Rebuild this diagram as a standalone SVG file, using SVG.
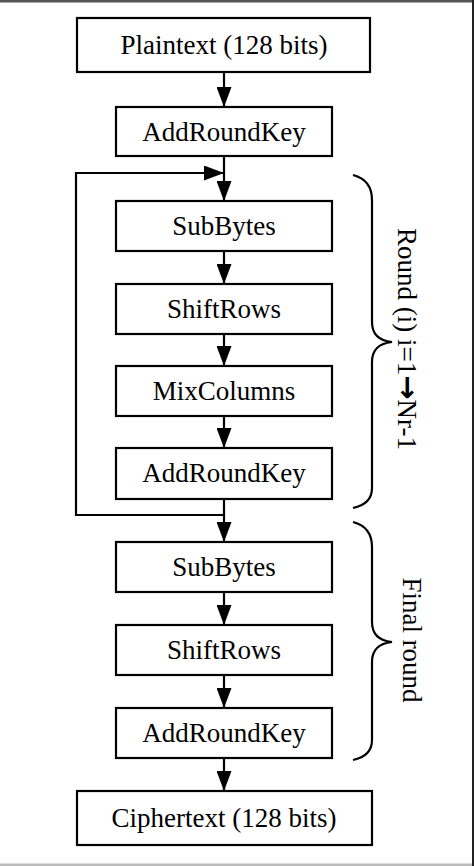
<svg xmlns="http://www.w3.org/2000/svg" width="474" height="866" viewBox="0 0 474 866">
<style>
.box{fill:#fff;stroke:#000;stroke-width:2.2}
.lbl{font-family:"Liberation Serif","Times New Roman",serif;font-size:27px;fill:#000;text-anchor:middle}
.ln{fill:none;stroke:#000;stroke-width:2.2}
.brace{fill:none;stroke:#000;stroke-width:2.2}
</style>
<defs>
<marker id="ah" markerWidth="20" markerHeight="15" refX="20" refY="7.5" viewBox="0 0 20 15" markerUnits="userSpaceOnUse" orient="auto">
<path d="M0,0 L20,7.5 L0,15 Z" fill="#000"/>
</marker>
</defs>
<rect x="0" y="0" width="474" height="866" fill="#fff"/>
<rect x="0" y="0" width="474" height="2.5" fill="#555"/>
<rect x="472" y="0" width="2" height="866" fill="#222"/>
<rect x="0" y="863.5" width="472" height="2.5" fill="#bbb"/>

<g id="connectors">
<line class="ln" x1="224" y1="72" x2="224" y2="107" marker-end="url(#ah)"/>
<line class="ln" x1="224" y1="156" x2="224" y2="201" marker-end="url(#ah)"/>
<line class="ln" x1="224" y1="251" x2="224" y2="284" marker-end="url(#ah)"/>
<line class="ln" x1="224" y1="334" x2="224" y2="366" marker-end="url(#ah)"/>
<line class="ln" x1="224" y1="416" x2="224" y2="448" marker-end="url(#ah)"/>
<line class="ln" x1="224" y1="499" x2="224" y2="542" marker-end="url(#ah)"/>
<line class="ln" x1="224" y1="592" x2="224" y2="625" marker-end="url(#ah)"/>
<line class="ln" x1="224" y1="675" x2="224" y2="708" marker-end="url(#ah)"/>
<line class="ln" x1="224" y1="758" x2="224" y2="791" marker-end="url(#ah)"/>
<polyline class="ln" points="224,515 76,515 76,173 224,173" marker-end="url(#ah)"/>
</g>

<g id="plaintext"><rect class="box" x="77" y="18" width="293" height="54"/><text class="lbl" x="224" y="54">Plaintext (128 bits)</text></g>
<g id="addroundkey0"><rect class="box" x="116" y="107" width="216" height="49"/><text class="lbl" x="224" y="141">AddRoundKey</text></g>
<g id="subbytes1"><rect class="box" x="116" y="201" width="216" height="50"/><text class="lbl" x="224" y="235">SubBytes</text></g>
<g id="shiftrows1"><rect class="box" x="116" y="284" width="216" height="50"/><text class="lbl" x="224" y="318">ShiftRows</text></g>
<g id="mixcolumns"><rect class="box" x="116" y="366" width="216" height="50"/><text class="lbl" x="224" y="400">MixColumns</text></g>
<g id="addroundkey1"><rect class="box" x="116" y="448" width="216" height="51"/><text class="lbl" x="224" y="482">AddRoundKey</text></g>
<g id="subbytes2"><rect class="box" x="116" y="542" width="216" height="50"/><text class="lbl" x="224" y="576">SubBytes</text></g>
<g id="shiftrows2"><rect class="box" x="116" y="625" width="216" height="50"/><text class="lbl" x="224" y="659">ShiftRows</text></g>
<g id="addroundkey2"><rect class="box" x="116" y="708" width="216" height="50"/><text class="lbl" x="224" y="742">AddRoundKey</text></g>
<g id="ciphertext"><rect class="box" x="77" y="791" width="295" height="54"/><text class="lbl" x="224" y="827">Ciphertext (128 bits)</text></g>

<g id="round-brace">
<path class="brace" d="M353,175 Q372,180 372,200 L372,322 Q372,340 392,342 Q372,344 372,362 L372,488 Q372,504 353,508"/>
<text class="lbl" transform="translate(398,339) rotate(90)">Round (i) i=1<tspan font-family="DejaVu Sans" font-weight="bold" font-size="29">→</tspan>Nr-1</text>
</g>
<g id="final-brace">
<path class="brace" d="M353,522 Q372,527 372,547 L372,622 Q372,640 392,642 Q372,644 372,662 L372,740 Q372,756 353,760"/>
<text class="lbl" transform="translate(403,640) rotate(90)">Final round</text>
</g>
</svg>
